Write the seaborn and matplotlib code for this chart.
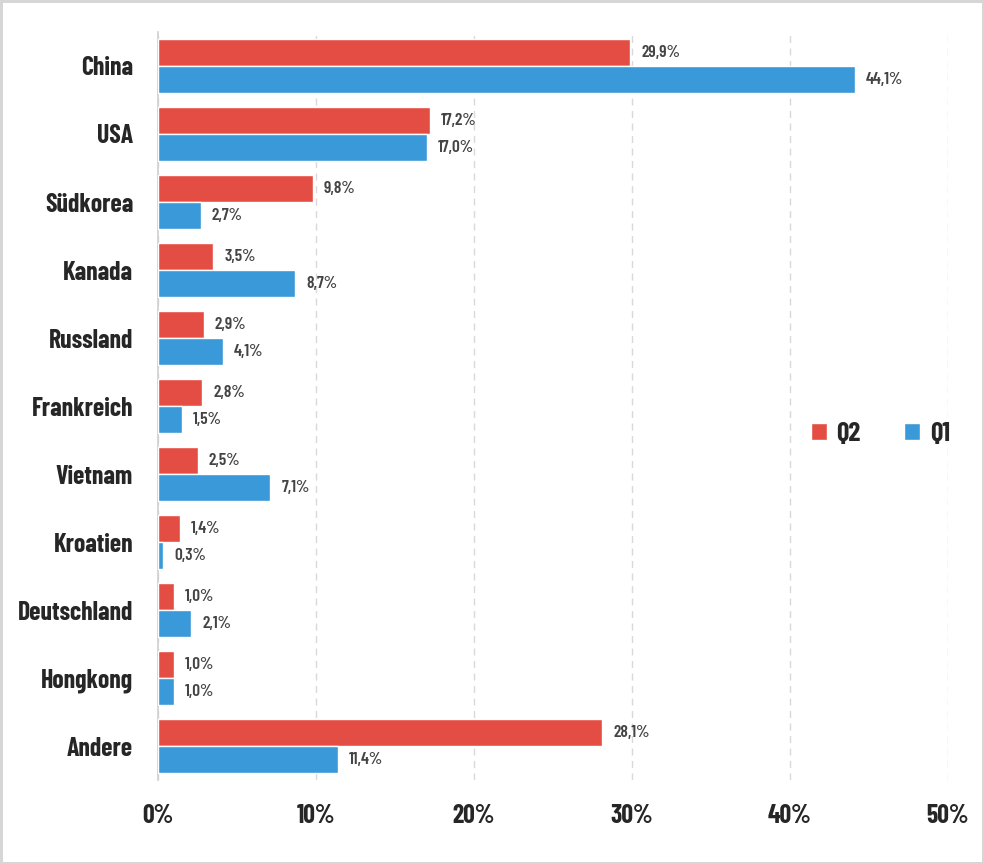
import matplotlib
matplotlib.use("Agg")
import matplotlib.pyplot as plt
import pandas as pd
import seaborn as sns

countries = ["China", "USA", "Südkorea", "Kanada", "Russland", "Frankreich",
             "Vietnam", "Kroatien", "Deutschland", "Hongkong", "Andere"]
q2_values = [29.9, 17.2, 9.8, 3.5, 2.9, 2.8, 2.5, 1.4, 1.0, 1.0, 28.1]
q1_values = [44.1, 17.0, 2.7, 8.7, 4.1, 1.5, 7.1, 0.3, 2.1, 1.0, 11.4]
quarters = ["Q2", "Q1"]
x_ticks = [0, 10, 20, 30, 40, 50]

RED = "#E44D43"
BLUE = "#3A99D8"

df = pd.DataFrame({
    "land": countries * 2,
    "quartal": ["Q2"] * len(countries) + ["Q1"] * len(countries),
    "anteil": q2_values + q1_values,
})

sns.set_style("white")
plt.rcParams["font.family"] = ["Barlow Condensed", "DejaVu Sans"]
plt.rcParams["font.weight"] = "bold"

fig = plt.figure(figsize=(9.84, 8.64), dpi=100)
fig.patch.set_edgecolor("#d6d6d6")
fig.patch.set_linewidth(2.5)
ax = fig.add_axes([0.1606, 0.097, 0.8028, 0.866])

sns.barplot(data=df, y="land", x="anteil", hue="quartal", hue_order=quarters,
            order=countries, palette=[RED, BLUE], orient="h", width=0.8,
            saturation=1, ax=ax, zorder=3)

for container, vals in zip(ax.containers, [q2_values, q1_values]):
    labels = [f"{v:.1f}%".replace(".", ",") for v in vals]
    ax.bar_label(container, labels=labels, padding=8, fontsize=12.5,
                 color="#444444", fontweight="semibold")

ax.set_xlim(0, 50)
ax.set_ylim(len(countries) - 0.5, -0.5)
ax.set_xticks(x_ticks)
ax.set_xticklabels([f"{t}%" for t in x_ticks], fontsize=18.5, fontweight="bold")
ax.tick_params(axis="y", labelsize=18.5, pad=18, length=0)
ax.tick_params(axis="x", pad=17, length=0)
for lbl in ax.get_yticklabels():
    lbl.set_fontweight("bold")
ax.set_xlabel("")
ax.set_ylabel("")

ax.xaxis.grid(True, linestyle=(0, (5, 4)), color="#d9d9d9", linewidth=1, zorder=0)
ax.set_axisbelow(True)
for side in ["top", "right", "bottom"]:
    ax.spines[side].set_visible(False)
ax.spines["left"].set_color("#d0d0d0")
ax.spines["left"].set_linewidth(1.2)

leg = ax.legend(loc="center right", bbox_to_anchor=(1.016, 0.4626), ncol=2,
                frameon=False, fontsize=19.5, handlelength=0.6, handleheight=0.6,
                columnspacing=1.6, handletextpad=0.35, borderaxespad=0.0)
for t in leg.get_texts():
    t.set_fontweight("bold")

fig.savefig("out.png", dpi=100, edgecolor=fig.get_edgecolor())
